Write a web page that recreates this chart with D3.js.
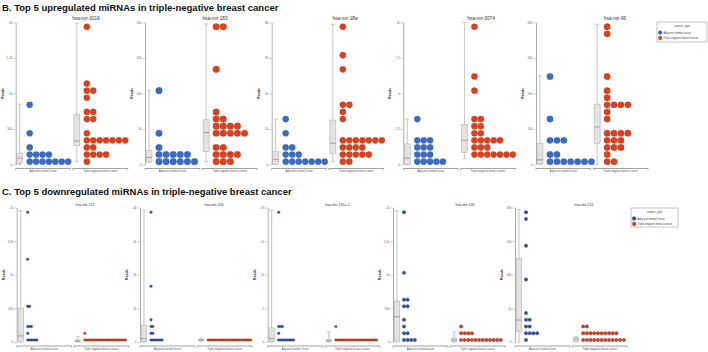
<!DOCTYPE html>
<html>
<head>
<meta charset="utf-8">
<script src="https://cdn.jsdelivr.net/npm/d3@7"></script>
<style>
  body { margin: 0; background: #fff; }
  svg { font-family: "Liberation Sans", Arial, sans-serif; display: block; }
</style>
</head>
<body>
<div id="chart"></div>
<script>
// ---- data ----
const groups = ['Adjacent normal tissue', 'Triple-negative breast cancer']
const legendTitle = 'sample_type'

// dots are [reads, number of samples at that level]
// boxes are [min, q1, median, q3, max]
const upMirs = ['hsa-mir-3016', 'hsa-mir-183', 'hsa-mir-18a', 'hsa-mir-3074', 'hsa-mir-96']
const upTicks = [
  [0, 500, 1000, 1500, 2000],
  [0, 5000, 10000, 15000, 20000],
  [0, 2000, 4000, 6000, 8000],
  [0, 2.5, 5, 7.5, 10],
  [0, 100, 200, 300, 400]
]
const upNormal = [
  [[40, 7], [140, 4], [240, 1], [440, 1], [840, 1]],
  [[400, 6], [1400, 5], [2400, 1], [4400, 1], [10400, 1]],
  [[160, 7], [560, 3], [960, 2], [1760, 1], [2560, 1]],
  [[0.2, 5], [0.7, 3], [1.2, 3], [1.7, 3], [3.2, 1]],
  [[8, 7], [28, 2], [68, 3], [128, 1], [248, 1]]
]
const upTumor = [
  [[40, 1], [140, 4], [240, 2], [340, 7], [440, 1], [640, 2], [740, 2], [940, 1], [1040, 2], [1140, 1], [1940, 1]],
  [[400, 3], [1400, 4], [2400, 2], [4400, 5], [5400, 4], [6400, 2], [7400, 1], [13400, 1], [19400, 2]],
  [[160, 2], [560, 5], [960, 4], [1360, 7], [2560, 1], [2960, 1], [3360, 2], [5360, 1], [6160, 1], [7760, 1]],
  [[0.7, 7], [1.2, 3], [1.7, 5], [2.2, 2], [2.7, 2], [3.2, 2], [5.2, 1], [6.2, 1], [9.7, 1]],
  [[8, 2], [28, 1], [48, 3], [68, 3], [88, 4], [128, 1], [148, 1], [168, 4], [188, 1], [208, 1], [248, 1], [368, 1], [388, 1]]
]
const upNormalBox = [
  [0, 20, 90, 160, 850],
  [350, 350, 1000, 2000, 10400],
  [0, 0, 290, 720, 2560],
  [0, 0, 0.45, 1.45, 3.2],
  [0, 3, 13, 60, 250]
]
const upTumorBox = [
  [40, 265, 330, 700, 1990],
  [400, 1800, 4500, 6300, 19800],
  [160, 630, 1200, 2500, 7900],
  [0.4, 0.86, 1.7, 2.83, 10],
  [0, 60, 106, 170, 395]
]

const downMirs = ['hsa-mir-122', 'hsa-mir-204', 'hsa-mir-135a-2', 'hsa-mir-136', 'hsa-mir-215']
const downTicks = [
  [0, 500, 1000, 1500, 2000],
  [0, 1000, 2000, 3000, 4000],
  [0, 5, 10, 15, 20],
  [0, 500, 1000, 1500, 2000],
  [0, 5000, 10000, 15000, 20000]
]
const downNormal = [
  [[30, 6], [130, 1], [230, 3], [530, 2], [1230, 1], [1930, 1]],
  [[60, 7], [260, 2], [460, 2], [660, 1], [1660, 1], [3860, 1]],
  [[0.3, 9], [1.3, 1], [2.3, 3], [19.3, 1]],
  [[30, 4], [130, 2], [230, 1], [330, 1], [530, 2], [630, 2], [1030, 1], [1930, 1]],
  [[300, 1], [1300, 4], [2300, 2], [3300, 2], [4300, 1], [9300, 1], [14300, 1], [18300, 1], [19300, 1]]
]
const downTumor = [
  [[30, 23], [130, 1]],
  [[60, 24]],
  [[0.3, 23], [2.3, 1]],
  [[30, 12], [130, 4], [230, 1]],
  [[300, 12], [1300, 10], [2300, 2]]
]
const downNormalBox = [
  [0, 5, 90, 505, 1950],
  [0, 20, 100, 500, 3930],
  [0, 0.1, 0.5, 2.1, 19.6],
  [0, 5, 376, 610, 1950],
  [0, 1530, 3270, 12450, 19700]
]
const downTumorBox = [
  [0, 5, 15, 30, 80],
  [20, 40, 60, 80, 120],
  [0, 0.1, 0.2, 0.4, 1.5],
  [0, 10, 30, 60, 150],
  [0, 100, 400, 700, 790]
]

// ---- layout ----
const upLayout = {
  title: 'B. Top 5 upregulated miRNAs in triple-negative breast cancer',
  titleY: 11, top: 22.5, bottom: 164.5,
  axisX: [15.7, 145, 271.7, 403.3, 536],
  titleX: [86, 215, 345, 481, 615], panelTitleY: 20, panelTitleSize: 4.7,
  dotR: [3.1, 3.3, 3.1, 3.1, 3.2], dotStep: [6.4, 7.1, 6.5, 6.4, 6.9], dotOff: 14,
  fills: ['#3b6cc4', '#d9421f'], strokes: ['#2b4f94', '#a83118'],
  boxW: 6, legend: { x: 657, y: 22, w: 50, h: 20 }
}
const downLayout = {
  title: 'C. Top 5 downregulated miRNAs in triple-negative breast cancer',
  titleY: 194.5, top: 207.5, bottom: 342,
  axisX: [16.7, 140, 267.7, 393, 515],
  titleX: [85, 214, 337.5, 465, 584], panelTitleY: 205.5, panelTitleSize: 3.6,
  dotR: [1.3, 1.3, 1.3, 1.75, 1.75], dotStep: [1.85, 1.85, 1.85, 3.6, 3.7], dotOff: 11,
  fills: ['#34539c', '#c4442a'], strokes: ['#1f3570', '#8e2a16'],
  boxW: 5.5, legend: { x: 631, y: 208, w: 47, h: 19 }
}

const svg = d3.select('#chart')
  .append('svg')
    .attr('width', 708)
    .attr('height', 352)

svg.append('rect').attr('width', 708).attr('height', 352).attr('fill', '#fff')

function drawRow (L, mirs, ticks, normal, tumor, normalBox, tumorBox) {
  const g = svg.append('g')

  g.append('text')
    .attr('x', 2)
    .attr('y', L.titleY)
    .attr('font-size', 9.5)
    .attr('font-weight', 'bold')
    .attr('fill', '#111')
    .text(L.title)

  mirs.forEach((mir, i) => {
    const ax = L.axisX[i]
    const y = d3.scaleLinear()
      .domain([0, d3.max(ticks[i])])
      .range([L.bottom, L.top])
    const x = d3.scaleBand()
      .domain(groups)
      .range([ax, ax + 112])
      .paddingInner(0.04)

    // y axis
    const yAx = g.append('g')
      .attr('transform', `translate(${ax},0)`)
      .call(d3.axisLeft(y).tickValues(ticks[i]).tickSize(2.5).tickSizeOuter(0).tickPadding(1).tickFormat(d3.format('~s')))
    yAx.select('.domain').attr('stroke', '#999').attr('stroke-width', 0.8)
    yAx.selectAll('.tick line').attr('stroke', '#999').attr('stroke-width', 0.5)
    yAx.selectAll('.tick text').attr('font-size', 3).attr('fill', '#666').attr('font-family', null)

    g.append('text')
      .attr('transform', `translate(${ax - 12},${(L.top + L.bottom) / 2}) rotate(-90)`)
      .attr('text-anchor', 'middle')
      .attr('font-size', 3.6)
      .attr('font-weight', 'bold')
      .attr('fill', '#333')
      .text('Reads')

    g.append('text')
      .attr('x', L.titleX[i])
      .attr('y', L.panelTitleY)
      .attr('text-anchor', 'middle')
      .attr('font-size', L.panelTitleSize)
      .attr('fill', '#333')
      .text(mir)

    const sets = [normal[i], tumor[i]]
    const boxes = [normalBox[i], tumorBox[i]]

    groups.forEach((grp, j) => {
      const x0 = x(grp)
      const cx = x0 + 4
      const [mn, q1, med, q3, mx] = boxes[j]

      // x axis segment for this group
      const xa = g.append('g').attr('transform', `translate(0,${L.bottom + 4})`)
      xa.append('path')
        .attr('d', `M${x0},1.5V0H${x0 + x.bandwidth()}V1.5`)
        .attr('fill', 'none')
        .attr('stroke', '#666')
        .attr('stroke-width', 0.6)
      xa.append('text')
        .attr('x', x0 + x.bandwidth() / 2)
        .attr('y', 3.6)
        .attr('text-anchor', 'middle')
        .attr('font-size', 2.7)
        .attr('fill', '#555')
        .text(grp)

      // box
      g.append('line')
        .attr('x1', cx).attr('x2', cx)
        .attr('y1', y(mn)).attr('y2', y(mx))
        .attr('stroke', '#aaa').attr('stroke-width', 0.7)
      g.selectAll(null)
        .data([mn, mx])
        .enter()
        .append('line')
          .attr('x1', cx - 2).attr('x2', cx + 2)
          .attr('y1', d => y(d)).attr('y2', d => y(d))
          .attr('stroke', '#aaa').attr('stroke-width', 0.6)
      g.append('rect')
        .attr('x', cx - L.boxW / 2)
        .attr('width', L.boxW)
        .attr('y', y(q3))
        .attr('height', Math.max(0.6, y(q1) - y(q3)))
        .attr('fill', '#e2e2e2')
        .attr('stroke', '#aaa')
        .attr('stroke-width', 0.5)
      g.append('line')
        .attr('x1', cx - L.boxW / 2).attr('x2', cx + L.boxW / 2)
        .attr('y1', y(med)).attr('y2', y(med))
        .attr('stroke', '#777').attr('stroke-width', 0.6)

      // dots, stacked to the right
      const pts = []
      sets[j].forEach(([v, n]) => {
        d3.range(n).forEach(k => pts.push({ v, k }))
      })
      g.selectAll(null)
        .data(pts)
        .enter()
        .append('circle')
          .attr('cx', d => x0 + L.dotOff + d.k * L.dotStep[i])
          .attr('cy', d => y(d.v))
          .attr('r', L.dotR[i])
          .attr('fill', L.fills[j])
          .attr('stroke', L.strokes[j])
          .attr('stroke-width', 0.3)
    })
  })

  // legend
  const lg = g.append('g').attr('transform', `translate(${L.legend.x},${L.legend.y})`)
  lg.append('rect')
    .attr('width', L.legend.w)
    .attr('height', L.legend.h)
    .attr('fill', '#fff')
    .attr('stroke', '#888')
    .attr('stroke-width', 0.5)
  lg.append('text')
    .attr('x', L.legend.w / 2)
    .attr('y', 4.6)
    .attr('text-anchor', 'middle')
    .attr('font-size', 2.8)
    .attr('fill', '#555')
    .text(legendTitle)
  groups.forEach((grp, j) => {
    lg.append('circle')
      .attr('cx', 3.2)
      .attr('cy', 10.5 + j * 5.5)
      .attr('r', 1.9)
      .attr('fill', L.fills[j])
      .attr('stroke', L.strokes[j])
      .attr('stroke-width', 0.3)
    lg.append('text')
      .attr('x', 6.5)
      .attr('y', 11.5 + j * 5.5)
      .attr('font-size', 2.7)
      .attr('fill', '#444')
      .text(grp)
  })
}

drawRow(upLayout, upMirs, upTicks, upNormal, upTumor, upNormalBox, upTumorBox)
drawRow(downLayout, downMirs, downTicks, downNormal, downTumor, downNormalBox, downTumorBox)
</script>
</body>
</html>
